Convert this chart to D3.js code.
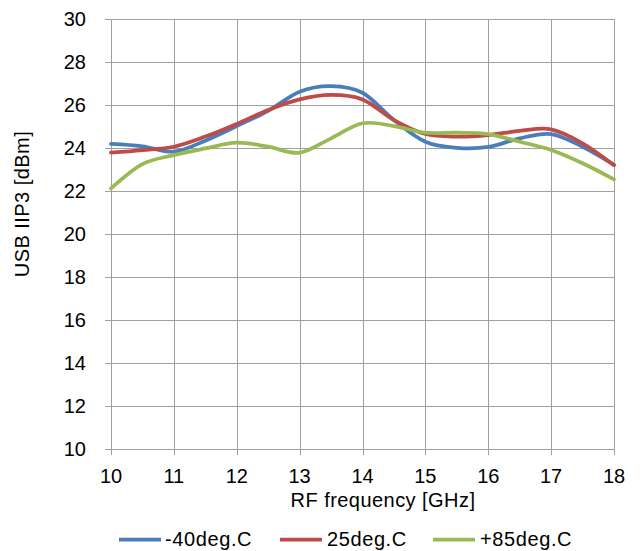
<!DOCTYPE html>
<html><head><meta charset="utf-8">
<script src="https://cdn.jsdelivr.net/npm/d3@7"></script>
<style>body{margin:0;background:#fff;} text{font-family:"Liberation Sans",Arial,sans-serif;fill:#000;}</style>
</head><body>
<svg id="c" width="642" height="551"></svg>
<script>
const freqs = [10, 10.5, 11, 11.5, 12, 12.5, 13, 13.5, 14, 14.5, 15, 15.5, 16, 16.5, 17, 17.5, 18];
const seriesNames = ["-40deg.C", "25deg.C", "+85deg.C"];
const seriesColors = ["#4a7ebb", "#be4b48", "#98b954"];
const valsM40 = [24.19, 24.08, 23.83, 24.34, 25.02, 25.73, 26.62, 26.88, 26.57, 25.3, 24.29, 24.01, 24.05, 24.45, 24.65, 24.06, 23.22];
const vals25  = [23.78, 23.9, 24.06, 24.53, 25.12, 25.77, 26.26, 26.47, 26.26, 25.3, 24.65, 24.53, 24.6, 24.8, 24.87, 24.22, 23.2];
const vals85  = [22.12, 23.25, 23.67, 23.98, 24.25, 24.06, 23.78, 24.45, 25.15, 25.02, 24.71, 24.71, 24.65, 24.29, 23.91, 23.29, 22.54];
const xTicks = [10, 11, 12, 13, 14, 15, 16, 17, 18];
const yTicks = [10, 12, 14, 16, 18, 20, 22, 24, 26, 28, 30];

const svg = d3.select("#c");
const x = d3.scaleLinear().domain([10, 18]).range([111, 614]);
const y = d3.scaleLinear().domain([10, 30]).range([449, 19]);

const gridColor = "#a0a0a0";
svg.append("g").selectAll("line").data(yTicks).join("line")
  .attr("x1", 105).attr("x2", 614.5).attr("y1", d => Math.round(y(d))+0.5).attr("y2", d => Math.round(y(d))+0.5)
  .attr("stroke", gridColor).attr("stroke-width", 1);
svg.append("g").selectAll("line").data(xTicks).join("line")
  .attr("x1", d => Math.round(x(d))+0.5).attr("x2", d => Math.round(x(d))+0.5)
  .attr("y1", 19).attr("y2", 455)
  .attr("stroke", gridColor).attr("stroke-width", 1);

svg.append("g").selectAll("text").data(yTicks).join("text")
  .attr("x", 86).attr("y", d => y(d)+7).attr("text-anchor", "end")
  .style("font-size", "20px").text(d => d);
svg.append("g").selectAll("text").data(xTicks).join("text")
  .attr("x", d => x(d)).attr("y", 483).attr("text-anchor", "middle")
  .style("font-size", "20px").text(d => d);

svg.append("text").attr("x", 383).attr("y", 507).attr("text-anchor", "middle")
  .style("font-size", "20px").style("letter-spacing", "0.45px").text("RF frequency [GHz]");
svg.append("text").attr("transform", "translate(29,204) rotate(-90)").attr("text-anchor", "middle")
  .style("font-size", "20px").style("letter-spacing", "0.45px").text("USB IIP3 [dBm]");

const line = d3.line().x(d => x(d[0])).y(d => y(d[1])).curve(d3.curveCardinal.tension(0));
[valsM40, vals25, vals85].forEach((vals, i) => {
  svg.append("path").datum(freqs.map((f, j) => [f, vals[j]]))
    .attr("d", line).attr("fill", "none").attr("stroke", seriesColors[i])
    .attr("stroke-width", 3.75).attr("stroke-linecap", "round");
});

const legLine = [119, 280, 433];
const legText = [165, 327, 480];
const lg = svg.append("g");
seriesNames.forEach((n, i) => {
  lg.append("line").attr("x1", legLine[i]).attr("x2", legLine[i]+42).attr("y1", 539.5).attr("y2", 539.5)
    .attr("stroke", seriesColors[i]).attr("stroke-width", 3.75);
  lg.append("text").attr("x", legText[i]).attr("y", 546).style("font-size", "20px")
    .style("letter-spacing", "0.6px").text(n);
});
</script>
</body></html>
